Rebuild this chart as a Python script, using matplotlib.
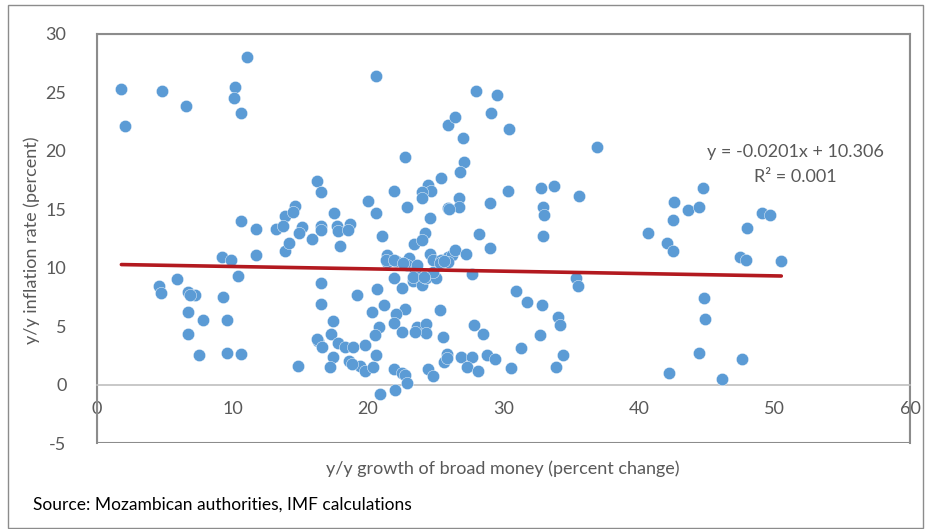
import matplotlib
matplotlib.use("Agg")
import matplotlib.pyplot as plt
from matplotlib.patches import Rectangle
import numpy as np

plt.rcParams['font.family'] = ['Lato', 'DejaVu Sans']
plt.rcParams['axes.unicode_minus'] = False

# y/y growth of broad money (percent change)
money_growth = [
    1.8, 2.1, 4.8, 6.6, 10.2, 10.1, 10.6, 11.1,
    10.6, 11.7, 13.2, 13.9, 13.75, 9.2, 9.9, 11.7, 13.9, 14.2, 5.9, 10.4,
    4.6, 4.7, 6.7, 7.2, 6.9, 9.3, 6.7, 7.8, 9.6, 6.7, 7.5, 9.6, 10.6,
    20.6, 25.9, 22.7, 16.2, 16.5, 25.4, 24.4, 24.65, 24.0, 24.0, 21.9, 22.9,
    25.9, 20.0, 20.6, 24.55, 24.2, 21.0, 14.6, 14.5, 17.5, 15.1, 14.9, 16.5,
    16.5, 17.7, 17.8, 18.7, 18.5, 15.85,
    17.9, 23.4, 24.0, 24.6, 25.9, 21.4, 21.4, 22.1, 23.0, 22.9, 23.5, 23.3,
    24.0, 24.3, 25.0, 24.8, 21.9, 22.5, 16.5, 20.7, 19.2, 16.5, 21.2, 20.3,
    22.7, 22.1, 25.3, 17.4, 21.9, 20.8, 20.5, 22.5, 23.6, 24.3, 24.3, 23.5,
    25.5, 16.3, 16.2, 16.6, 17.3, 17.8, 18.3, 18.9, 19.8, 20.6, 17.4, 17.2,
    14.8, 18.6, 19.4, 19.8, 20.4, 18.8, 21.9, 22.5, 22.7, 22.9, 22.0, 20.9,
    24.45, 24.8, 25.6, 25.8,
    21.3, 21.9, 22.6, 23.6, 24.8, 25.4, 26.2, 25.9, 25.3, 23.3, 24.1,
    28.0, 29.5, 29.1, 26.4, 27.0, 30.4, 36.9, 27.1, 26.8, 30.3, 32.8, 33.75,
    35.55, 26.7, 26.7, 26.0, 29.0, 32.9, 33.0, 28.2, 32.9,
    29.0, 26.4, 27.2, 25.6, 27.7, 35.35, 35.5, 30.9, 31.7, 32.85, 34.0, 34.2,
    27.8, 28.5, 32.7, 31.3, 34.4, 25.8, 26.9, 27.65, 28.75, 29.4, 27.3, 28.1,
    30.55, 33.9,
    44.7, 42.6, 43.6, 44.4, 42.5, 40.7, 42.1, 42.5, 49.05, 49.7, 48.0, 47.45,
    47.9, 50.5, 44.8, 44.9, 44.4, 47.6, 42.2, 46.1,
]

# y/y inflation rate (percent)
inflation = [
    25.3, 22.1, 25.1, 23.8, 25.5, 24.5, 23.2, 28.0,
    14.0, 13.3, 13.3, 14.4, 13.6, 10.9, 10.7, 11.1, 11.4, 12.1, 9.05, 9.3,
    8.4, 7.8, 7.9, 7.7, 7.65, 7.5, 6.2, 5.5, 5.5, 4.3, 2.5, 2.7, 2.6,
    26.4, 22.2, 19.5, 17.4, 16.5, 17.7, 17.1, 16.55, 16.5, 16.0, 16.6, 15.2,
    15.1, 15.7, 14.7, 14.25, 13.0, 12.7, 15.3, 14.8, 14.65, 13.5, 13.0, 13.6,
    13.2, 13.6, 13.1, 13.7, 13.25, 12.5,
    11.9, 12.0, 12.4, 11.2, 10.95, 11.1, 10.5, 10.6, 10.8, 10.2, 9.8, 8.9,
    8.5, 9.1, 9.1, 9.65, 9.1, 8.3, 8.65, 8.2, 7.7, 6.9, 6.8, 6.2,
    6.5, 6.05, 6.4, 5.4, 5.3, 4.9, 4.25, 4.5, 4.9, 5.2, 4.4, 4.5,
    4.1, 3.75, 3.9, 3.2, 4.3, 3.6, 3.2, 3.2, 3.4, 2.5, 2.4, 1.5,
    1.6, 2.0, 1.6, 1.2, 1.5, 1.75, 1.3, 1.0, 0.8, 0.1, -0.46, -0.84,
    1.3, 0.7, 1.9, 2.6,
    10.7, 10.7, 10.4, 10.2, 10.7, 10.7, 11.1, 10.5, 10.4, 9.2, 9.2,
    25.15, 24.8, 23.2, 22.9, 21.1, 21.9, 20.3, 19.05, 18.2, 16.6, 16.8, 17.0,
    16.1, 16.0, 15.2, 15.06, 15.5, 15.2, 14.5, 12.9, 12.7,
    11.7, 11.5, 11.15, 10.6, 9.5, 9.1, 8.45, 8.0, 7.1, 6.8, 5.75, 5.06,
    5.06, 4.3, 4.2, 3.1, 2.55, 2.3, 2.4, 2.4, 2.5, 2.2, 1.5, 1.2,
    1.4, 1.5,
    16.8, 15.6, 14.9, 15.2, 14.1, 13.0, 12.15, 11.4, 14.7, 14.5, 13.4, 10.9,
    10.7, 10.6, 7.4, 5.6, 2.7, 2.15, 1.0, 0.5,
]

# Linear trend as reported on the chart
trend_slope = -0.0201
trend_intercept = 10.306
trend_label = "y = -0.0201x + 10.306"
r2_label = "R\u00b2 = 0.001"

x_ticks = [0, 10, 20, 30, 40, 50, 60]
y_ticks = [-5, 0, 5, 10, 15, 20, 25, 30]

W, H = 926, 529
fig = plt.figure(figsize=(W / 100, H / 100), dpi=100)

# outer chart border
fig.patches.append(Rectangle((8 / W, 1 - 528 / H), (923 - 8) / W, (528 - 5) / H,
                             transform=fig.transFigure, fill=False,
                             edgecolor='#8c8c8c', linewidth=1.0))

ax = fig.add_axes([97 / W, 1 - 443 / H, (910 - 97) / W, (443 - 34) / H])
ax.set_xlim(0, 60)
ax.set_ylim(-5, 30)

grey_txt = '#595959'
for side in ['top', 'left', 'right']:
    ax.spines[side].set_color('#8c8c8c')
    ax.spines[side].set_linewidth(1.5)
ax.spines['bottom'].set_position(('data', 0))
ax.spines['bottom'].set_color('#bfbfbf')
ax.spines['bottom'].set_linewidth(1.2)
# bottom frame of plot area
ax.add_patch(Rectangle((0, 0), 1, 1, transform=ax.transAxes, fill=False,
                       edgecolor='#8c8c8c', linewidth=1.5, zorder=0.5))

ax.set_xticks(x_ticks)
ax.set_yticks(y_ticks)
ax.tick_params(axis='both', length=0, labelsize=13, labelcolor=grey_txt)
ax.tick_params(axis='x', pad=12)
ax.tick_params(axis='y', pad=22)

ax.scatter(money_growth, inflation, s=78, color='#5b9bd5', edgecolors='white',
           linewidths=0.3, zorder=3)

xs = np.array([min(money_growth), max(money_growth)])
ax.plot(xs, trend_slope * xs + trend_intercept, color='#b3191f', linewidth=2.6,
        solid_capstyle='round', zorder=4)

fig.text(795 / W, 1 - 152 / H, trend_label, ha='center', va='center',
         fontsize=13, color=grey_txt)
fig.text(795 / W, 1 - 177 / H, r2_label, ha='center', va='center',
         fontsize=13, color=grey_txt)

fig.text(32 / W, 1 - 240 / H, "y/y inflation rate (percent)", rotation=90,
         ha='center', va='center', fontsize=13, color=grey_txt)
fig.text(503 / W, 1 - 469 / H, "y/y growth of broad money (percent change)",
         ha='center', va='center', fontsize=13, color=grey_txt)
fig.text(33 / W, 1 - 505 / H, "Source: Mozambican authorities, IMF calculations",
         ha='left', va='center', fontsize=12.5, color='black')

fig.savefig('out.png', dpi=100)
